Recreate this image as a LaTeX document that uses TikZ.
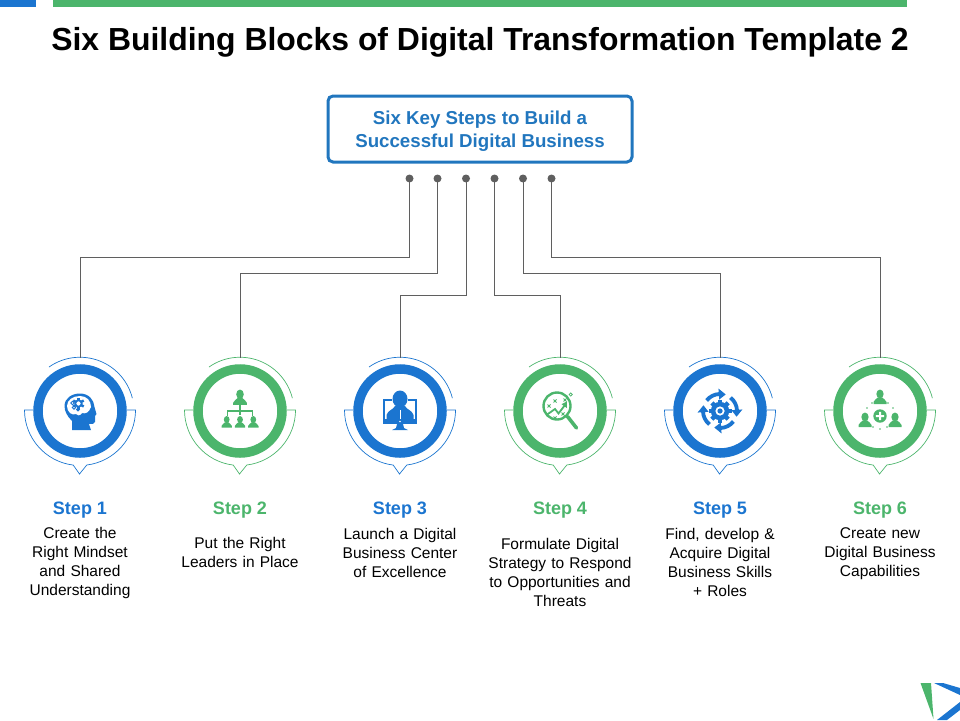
\documentclass[tikz,border=0pt]{standalone}
\usepackage{fontspec}
\setmainfont{Liberation Sans}
\usepackage{xcolor}
\usetikzlibrary{positioning, calc}
\definecolor{stepblue}{HTML}{1B75D0}
\definecolor{stepgreen}{HTML}{4CB56C}
\definecolor{boxblue}{HTML}{2176BE}
\definecolor{dotgray}{HTML}{5F5F5F}
\tikzset{
  wire/.style={draw=dotgray, line width=0.8pt},
  dotnode/.style={circle, fill=dotgray, inner sep=0pt, minimum size=8pt},
  ringnode/.style={circle, draw=#1, line width=9.5pt, minimum size=84pt, inner sep=0pt},
  steplabel/.style={font=\fontsize{18}{20}\selectfont\bfseries, text=#1, anchor=base},
  desc/.style={font=\fontsize{15.5}{19}\selectfont, text=black, align=center, text width=160pt},
  thinarc/.style={draw=#1, line width=0.7pt}
}
% small figure: x, y, scale, colour
\newcommand{\personfig}[4]{%
  \begin{scope}[shift={(#1,#2)}, scale=#3]
    \fill[#4] (0,-4) ellipse [x radius=3.6pt, y radius=4.5pt];
    \fill[#4] (-6.5,6) -- (-6.5,4) .. controls (-6,1.5) and (-3,1) .. (-2.2,-0.5) -- (2.2,-0.5) .. controls (3,1) and (6,1.5) .. (6.5,4) -- (6.5,6) -- cycle;
  \end{scope}}
\begin{document}
\begin{tikzpicture}[x=1pt, y=-1pt]
\useasboundingbox (0,0) rectangle (960,720);
% Top bars
\fill[stepblue] (0,0) rectangle (36,6.5);
\fill[stepgreen] (53,0) rectangle (907,6.5);
\node[font=\fontsize{31.9}{36}\selectfont\bfseries, anchor=base] (title) at (480,50.5) {Six Building Blocks of Digital Transformation Template 2};

% Heading box
\node[draw=boxblue, line width=3pt, rounded corners=5pt, minimum width=304pt, minimum height=66pt] (head) at (480,129) {};
\node[align=center, text=boxblue, font=\fontsize{18.7}{23.5}\selectfont\bfseries] (headtext) at (480,131) {Six Key Steps to Build a\\[-0.5pt]Successful Digital Business};

% Steps
\foreach \i/\x/\c/\t in {1/80/stepblue/Step 1, 2/240/stepgreen/Step 2, 3/400/stepblue/Step 3,
    4/560/stepgreen/Step 4, 5/720/stepblue/Step 5, 6/880/stepgreen/Step 6} {
  \node[ringnode=\c] (ring\i) at (\x,411) {};
  \coordinate (top\i) at (\x,358);
  \draw[thinarc=\c] (\x-31,367) arc[start angle=125, end angle=14, radius=54pt];
  \draw[thinarc=\c] (\x-47,410) -- (\x-55.5,410) arc[start angle=180, end angle=263, radius=55.5pt]
    -- (\x-0.5,474) -- (\x+6.8,465) arc[start angle=277, end angle=360, radius=55.5pt] -- (\x+47,410);
  \node[steplabel=\c] (label\i) at (\x,514) {\t};
}

% Dots and connectors
\foreach \i/\x/\y in {1/409.5/257, 2/437.5/273, 3/466/295, 4/494.5/295, 5/523/273, 6/551.5/257} {
  \node[dotnode] (dot\i) at (\x,178.5) {};
  \draw[wire] (dot\i.center) -- (\x,\y) -| (top\i);
}

% Icon 1: head
\begin{scope}[shift={(ring1.center)}]
  \fill[stepblue] (-8,19) -- (-8,10) .. controls (-13,5) and (-15.5,0) .. (-15.5,-5)
    .. controls (-15.5,-13) and (-8,-17.5) .. (0,-17.5) .. controls (9,-17.5) and (14,-11) .. (14.5,-4)
    -- (16.5,3) -- (15,5) -- (15,11) .. controls (15,13) and (12,13) .. (9,13) -- (11,19) -- cycle;
  \fill[white] (-13,-5) .. controls (-13,-11) and (-7,-15) .. (0,-15) .. controls (7,-15) and (11,-10) .. (11,-4)
    .. controls (9,2) and (5,3) .. (2,2) .. controls (0,5) and (-3,5) .. (-4,3) .. controls (-8,5) and (-13,1) .. (-13,-5) -- cycle;
  \foreach \a in {0,60,...,300} {
    \fill[stepblue, rotate around={\a:(-1.5,-7.5)}] (-2.7,-13.5) rectangle (-0.3,-10);
  }
  \draw[stepblue, line width=1.8pt] (-1.5,-7.5) circle (3.2pt);
  \draw[stepblue, line width=0.9pt] (-7.5,-8) circle (1.7pt);
  \draw[stepblue, line width=0.9pt] (-6,-3.5) circle (1.7pt);
  \draw[stepblue, line width=0.9pt] (-2,-1.5) circle (1.5pt);
\end{scope}

% Icon 2: leaders
\begin{scope}[shift={(ring2.center)}]
  \personfig{0}{-12.5}{1.05}{stepgreen}
  \draw[stepgreen, line width=1.4pt] (0,-6) -- (0,4) (-12.7,4.5) -- (-12.7,0) -- (12.7,0) -- (12.7,4.5);
  \foreach \x in {-13.3,0,13.3} {
    \personfig{\x}{11.8}{0.8}{stepgreen}
  }
\end{scope}

% Icon 3: monitor
\begin{scope}[shift={(ring3.center)}]
  \draw[stepblue, line width=2pt] (-8,-11) -- (-16,-11) -- (-16,10) -- (16,10) -- (16,-11) -- (8,-11);
  \fill[stepblue] (-17,8) rectangle (17,13);
  \fill[stepblue] (-3,13) -- (3,13) -- (4,17) -- (8,19) -- (-8,19) -- (-4,17) -- cycle;
  \fill[stepblue] (0,-12) ellipse [x radius=7.5pt, y radius=8.5pt];
  \fill[stepblue] (-13.5,8) -- (-13.5,4) .. controls (-12,-1) and (-7,-1) .. (-5,-5) -- (5,-5) .. controls (7,-1) and (12,-1) .. (13.5,4) -- (13.5,8) -- cycle;
  \draw[white, line width=0.9pt] (0,-1) -- (0,8);
  \fill[white] (0,10.5) circle (0.9pt);
\end{scope}

% Icon 4: magnifier
\begin{scope}[shift={(ring4.center)}]
  \draw[stepgreen, line width=2.4pt] (-3,-5) circle (13.5pt);
  \draw[stepgreen, line width=3.6pt, line cap=round] (7.5,5.5) -- (16.5,17);
  \draw[stepgreen, line width=1.8pt] (-13.5,4) -- (-5,-2) -- (-1.5,2.5) -- (5,-6);
  \fill[stepgreen] (7,-9.5) -- (1.5,-6.8) -- (6.8,-3) -- cycle;
  \foreach \x/\y in {-11/-5, -5/-10, 3/3, -5/7, 5/-11} {
    \draw[stepgreen, line width=1pt] (\x-1.5,\y-1.5) -- (\x+1.5,\y+1.5) (\x-1.5,\y+1.5) -- (\x+1.5,\y-1.5);
  }
  \draw[stepgreen, line width=0.8pt] (10.7,-16.5) circle (1.6pt);
\end{scope}

% Icon 5: gear and arrows
\begin{scope}[shift={(ring5.center)}]
  \foreach \a in {0,45,...,315} {
    \fill[stepblue, rotate=\a] (-2.2,-11.5) rectangle (2.2,-7);
  }
  \fill[stepblue] (0,0) circle (9.2pt);
  \fill[white] (0,0) circle (4.6pt);
  \fill[stepblue] (0,0) circle (2.6pt);
  \foreach \a in {0,-90,-180,-270} {
    \draw[stepblue, line width=3.8pt] ({\a+142}:17pt) arc[start angle=\a+142, end angle=\a+92, radius=17pt];
    \fill[stepblue] ({\a+94}:11.5pt) -- ({\a+94}:22.5pt) -- ({\a+71}:17.5pt) -- cycle;
  }
\end{scope}

% Icon 6: team and plus
\begin{scope}[shift={(ring6.center)}]
  \personfig{0}{-13}{1}{stepgreen}
  \personfig{-15}{10}{1}{stepgreen}
  \personfig{15}{10}{1}{stepgreen}
  \fill[stepgreen] (0,5) circle (6.7pt);
  \fill[white] (-1,0.8) rectangle (1,9.2) (-4.2,4) rectangle (4.2,6);
  \foreach \x/\y in {-13/-3, -8/-8, 8/-8, 13/-3, -7/16, 0/18, 7/16} {
    \fill[stepgreen] (\x,\y) circle (0.8pt);
  }
\end{scope}

% Descriptions
\node[desc] (desc1) at (80,563) {Create the\\Right Mindset\\and Shared\\Understanding};
\node[desc] (desc2) at (240,552.5) {Put the Right\\Leaders in Place};
\node[desc] (desc3) at (400,553) {Launch a Digital\\Business Center\\of Excellence};
\node[desc] (desc4) at (560,572.5) {Formulate Digital\\Strategy to Respond\\to Opportunities and\\Threats};
\node[desc] (desc5) at (720,562.5) {Find, develop \&\\Acquire Digital\\Business Skills\\+ Roles};
\node[desc] (desc6) at (880,553.5) {Create new\\Digital Business\\Capabilities};

% Corner mark
\fill[stepgreen] (920.5,683) -- (931,683) -- (933.5,719) -- cycle;
\fill[stepblue] (934,683) -- (943,683) -- (960,688) -- (960,695) -- cycle;
\fill[stepblue] (937,720) -- (960,702) -- (960,710) -- (947,720) -- cycle;
\end{tikzpicture}
\end{document}
